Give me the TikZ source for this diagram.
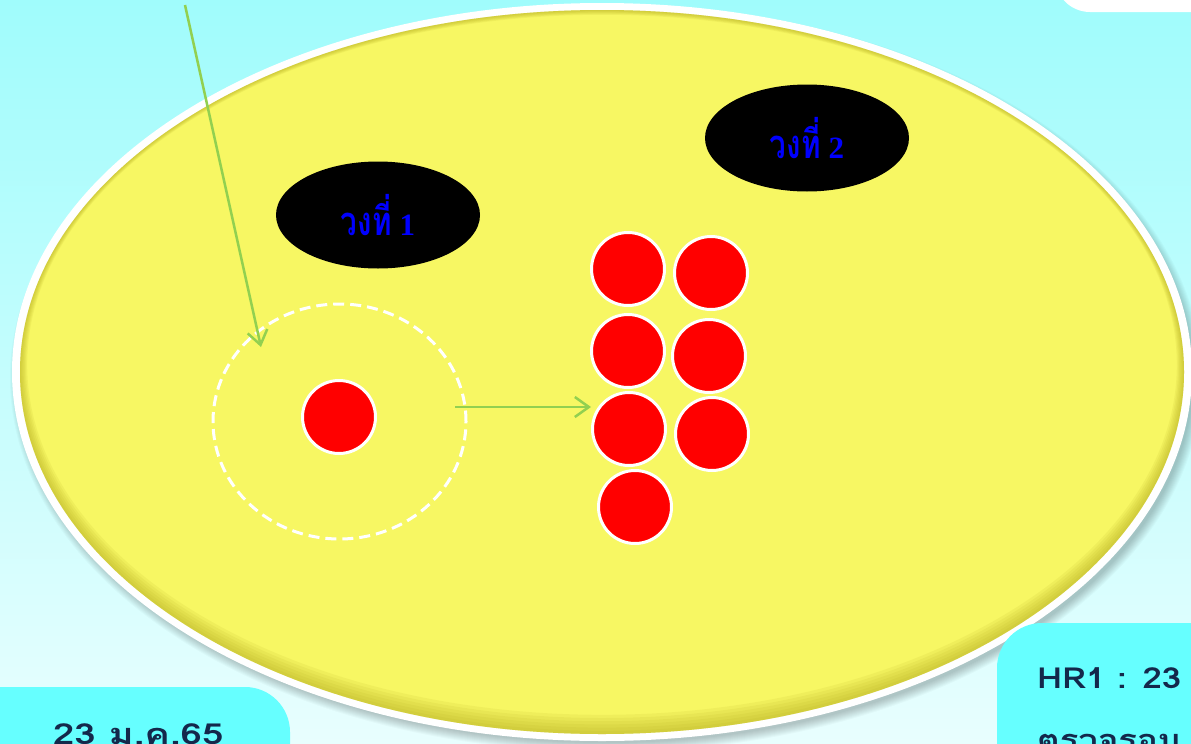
\documentclass[tikz,border=0pt]{standalone}
\usepackage{fontspec}
\usetikzlibrary{shapes.geometric,arrows.meta}
\newfontfamily\thaifont[Script=Thai]{Loma}
\newfontfamily\digfont{Liberation Serif}[BoldFont={Liberation Serif Bold}]
\definecolor{bgtop}{HTML}{A0FCFC}
\definecolor{bgbot}{HTML}{E8FEFE}
\definecolor{boxcyan}{HTML}{66FFFF}
\definecolor{ylw}{HTML}{F7F763}
\definecolor{ylwdark}{HTML}{A89E10}
\definecolor{grn}{HTML}{92D050}
\definecolor{navy}{HTML}{14284B}
\definecolor{lblue}{HTML}{0000FF}
\newcommand{\ovaltext}[1]{\scalebox{0.74}[1]{\thaifont\bfseries\fontsize{40}{44}\selectfont วงที่}\hspace{8pt}{\digfont\bfseries\fontsize{31}{34}\selectfont #1}}
\newcommand{\wide}[1]{\scalebox{1.2}[1]{#1}}
\tikzset{
  redball/.style={circle, fill=red, draw=white, line width=3pt, minimum size=73pt, inner sep=0pt},
  blackoval/.style={ellipse, fill=black, minimum width=204pt, minimum height=107pt, inner sep=0pt, text=lblue},
  garrow/.style={draw=grn, line width=2.5pt, -{Straight Barb[length=14pt,width=20pt,line width=2.5pt]}},
  boxtext/.style={anchor=base west, inner sep=0pt, text=navy, font=\thaifont\bfseries\fontsize{29}{32}\selectfont}
}
\begin{document}
\begin{tikzpicture}[x=1pt,y=-1pt]
\useasboundingbox (0,0) rectangle (1191,744);
% background
\shade[top color=bgtop, bottom color=bgbot] (0,0) rectangle (1191,744);
% top-right white shape
\fill[white, rounded corners=35pt] (1055,-80) rectangle (1260,12);
% shadow of big ellipse
\foreach \i in {1,...,10} {
  \fill[black, opacity=0.025] (606,378) ellipse ({586+\i} and {364+\i});
}
% big ellipse with white border
\fill[white] (602,372) ellipse (590 and 369);
\fill[ylw] (602,372) ellipse (582 and 362);
\foreach \k in {2,4,...,12} {
  \fill[ylwdark, opacity=0.09, even odd rule] (602,372) ellipse (582 and 362)
     (602,{372-0.6*\k}) ellipse ({582-0.6*\k} and {362-\k});
}
% black ovals
\node[blackoval] (v1) at (378,215) {\ovaltext{1}};
\node[blackoval] (v2) at (807,138) {\ovaltext{2}};
% dashed circle and ball
\node[ellipse, draw=white, dash pattern=on 11pt off 6pt, line width=3pt,
      minimum width=253pt, minimum height=235pt, inner sep=0pt] (zone) at (339.5,421.5) {};
\node[redball] (b0) at (339,417) {};
% cluster
\node[redball] (c1) at (628,269) {};
\node[redball] (c2) at (711,273) {};
\node[redball] (c3) at (628,351) {};
\node[redball] (c4) at (709,356) {};
\node[redball] (c5) at (629,429) {};
\node[redball] (c6) at (712,434) {};
\node[redball] (c7) at (635,507) {};
% arrows
\coordinate (s1) at (185,5);
\coordinate (e1) at (261,347);
\draw[garrow] (s1) -- (e1);
\coordinate (s2) at (455,407);
\draw[garrow] (s2) -- (c5.west |- s2);
% bottom boxes
\fill[boxcyan, rounded corners=45pt] (-60,687) rectangle (290,820);
\node[boxtext] (date) at (53,744) {\scalebox{1.32}[1]{23 ม.ค.65}};
\fill[boxcyan, rounded corners=45pt] (997,623) rectangle (1260,820);
\node[boxtext] (hr) at (1037,688) {\wide{HR1 : 23}};
\node[boxtext] (chk) at (1037,750) {\wide{ตรวจรอบ}};
\end{tikzpicture}
\end{document}
